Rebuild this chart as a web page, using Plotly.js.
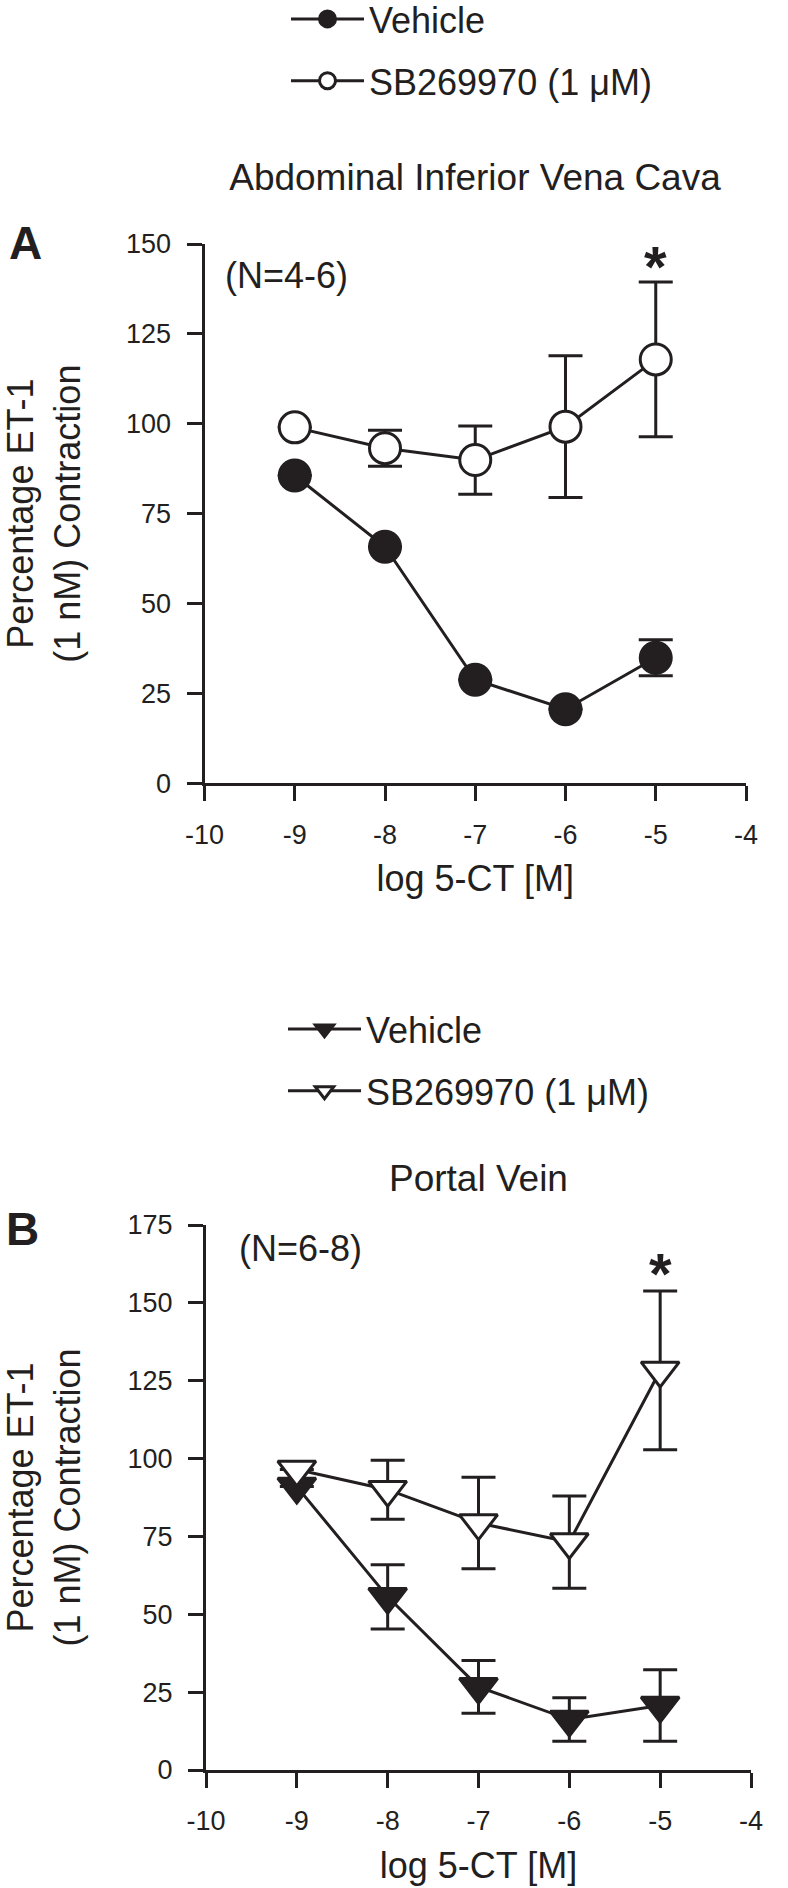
<!DOCTYPE html>
<html>
<head>
<meta charset="utf-8">
<script src="https://cdn.plot.ly/plotly-3.0.1.min.js"></script>
<style>html,body{margin:0;padding:0;background:#fff;}#chart{width:788px;height:1888px;}</style>
</head>
<body>
<div id="chart"></div>
<script>
// ---- data ----
const doseLog = [-9, -8, -7, -6, -5];
const xTickVals = [-10, -9, -8, -7, -6, -5, -4];
const xTickText = ['-10', '-9', '-8', '-7', '-6', '-5', '-4'];

// Panel A: Abdominal Inferior Vena Cava
const vehicleA = [85.6, 65.8, 28.8, 20.6, 34.9];
const vehicleAErr = [null, null, null, null, 5.0];
const sbA = [99.0, 93.2, 89.9, 99.2, 117.9];
const sbAErr = [null, 5.0, 9.5, 19.7, 21.5];

// Panel B: Portal Vein
const vehicleB = [91.0, 55.6, 26.7, 16.2, 20.7];
const vehicleBErr = [null, 10.3, 8.5, 7.0, 11.5];
const sbB = [96.5, 90.0, 79.3, 73.2, 128.3];
const sbBErr = [null, 9.5, 14.7, 14.8, 25.5];

const seriesNames = ['Vehicle', 'SB269970 (1 \u03bcM)'];
const titleA = 'Abdominal Inferior Vena Cava';
const titleB = 'Portal Vein';
const yTitle = 'Percentage ET-1<br>(1 nM) Contraction';
const xTitle = 'log 5-CT [M]';

// ---- style ----
const INK = '#231f20';
const FONT = 'Liberation Sans, Arial, Helvetica, sans-serif';

function trace(y, err, name, symbol, fill, xa, ya, legend, group) {
  return {
    x: doseLog, y: y, name: name, type: 'scatter', mode: 'lines+markers',
    xaxis: xa, yaxis: ya, legend: legend, legendgroup: group,
    cliponaxis: false,
    line: {color: INK, width: 3},
    marker: {symbol: symbol, size: symbol.indexOf('triangle') === 0 ? 33 : 31,
             color: fill, line: {color: INK, width: 3}},
    error_y: {type: 'data', array: err, visible: true, color: INK, thickness: 3, width: 17}
  };
}

const data = [
  trace(vehicleA, vehicleAErr, seriesNames[0], 'circle', INK, 'x', 'y', 'legend', 'a1'),
  trace(sbA, sbAErr, seriesNames[1], 'circle', '#ffffff', 'x', 'y', 'legend', 'a2'),
  trace(vehicleB, vehicleBErr, seriesNames[0], 'triangle-down', INK, 'x2', 'y2', 'legend2', 'b1'),
  trace(sbB, sbBErr, seriesNames[1], 'triangle-down', '#ffffff', 'x2', 'y2', 'legend2', 'b2')
];

function xaxis(domain, anchor) {
  return {
    domain: domain, anchor: anchor, range: [-10, -4],
    tickvals: xTickVals, ticktext: xTickText,
    showline: true, linewidth: 3, linecolor: INK,
    ticks: 'outside', ticklen: 15, tickwidth: 3, tickcolor: INK,
    ticklabelstandoff: 10,
    showgrid: false, zeroline: false,
    tickfont: {family: FONT, size: 27, color: INK},
    title: {text: xTitle, font: {family: FONT, size: 36, color: INK}, standoff: 18}
  };
}
function yaxis(domain, anchor, top) {
  return {
    domain: domain, anchor: anchor, range: [0, top], dtick: 25, tick0: 0,
    showline: true, linewidth: 3, linecolor: INK,
    ticks: 'outside', ticklen: 15, tickwidth: 3, tickcolor: INK,
    ticklabelstandoff: 10,
    showgrid: false, zeroline: false,
    tickfont: {family: FONT, size: 27, color: INK},
    title: {text: yTitle, font: {family: FONT, size: 36, color: INK}, standoff: 40}
  };
}

const W = 788, H = 1888;
const px = v => v / W;
const py = v => 1 - v / H;

const legendStyle = {
  xanchor: 'left', yanchor: 'top',
  font: {family: FONT, size: 36, color: INK}, bgcolor: 'rgba(0,0,0,0)',
  itemwidth: 73, traceorder: 'grouped', tracegroupgap: 12
};

const layout = {
  width: W, height: H,
  margin: {l: 0, r: 0, t: 0, b: 0, autoexpand: false},
  paper_bgcolor: '#ffffff', plot_bgcolor: '#ffffff',
  font: {family: FONT, color: INK},
  showlegend: true,
  title: {text: titleA, font: {family: FONT, size: 37, color: INK},
          xref: 'paper', x: px(475), xanchor: 'center', yref: 'paper', y: py(177), yanchor: 'middle'},
  xaxis: xaxis([px(204.5), px(746)], 'y'),
  yaxis: yaxis([py(783.3), py(244)], 'x', 150),
  xaxis2: xaxis([px(206), px(751)], 'y2'),
  yaxis2: yaxis([py(1770), py(1225)], 'x2', 175),
  legend: Object.assign({x: px(286), y: py(-11)}, legendStyle),
  legend2: Object.assign({x: px(283), y: py(999)}, legendStyle),
  annotations: [
    {text: titleB, xref: 'paper', x: px(478.5), xanchor: 'center', yref: 'paper', y: py(1178), yanchor: 'middle',
     showarrow: false, font: {family: FONT, size: 37, color: INK}},
    {text: '<b>A</b>', xref: 'paper', x: px(25), xanchor: 'center', yref: 'paper', y: py(243), yanchor: 'middle',
     showarrow: false, font: {family: FONT, size: 46, color: INK}},
    {text: '<b>B</b>', xref: 'paper', x: px(22), xanchor: 'center', yref: 'paper', y: py(1229), yanchor: 'middle',
     showarrow: false, font: {family: FONT, size: 46, color: INK}},
    {text: '(N=4-6)', xref: 'paper', x: px(223), xanchor: 'left', yref: 'paper', y: py(276), yanchor: 'middle',
     showarrow: false, font: {family: FONT, size: 36, color: INK}},
    {text: '(N=6-8)', xref: 'paper', x: px(237), xanchor: 'left', yref: 'paper', y: py(1248), yanchor: 'middle',
     showarrow: false, font: {family: FONT, size: 36, color: INK}},
    {text: '<b>*</b>', xref: 'x', x: -5, xanchor: 'center', yref: 'paper', y: py(266), yanchor: 'middle',
     showarrow: false, font: {family: FONT, size: 58, color: INK}},
    {text: '<b>*</b>', xref: 'x2', x: -5, xanchor: 'center', yref: 'paper', y: py(1273), yanchor: 'middle',
     showarrow: false, font: {family: FONT, size: 58, color: INK}}
  ]
};

Plotly.newPlot('chart', data, layout, {staticPlot: true, displayModeBar: false});
</script>
</body>
</html>
